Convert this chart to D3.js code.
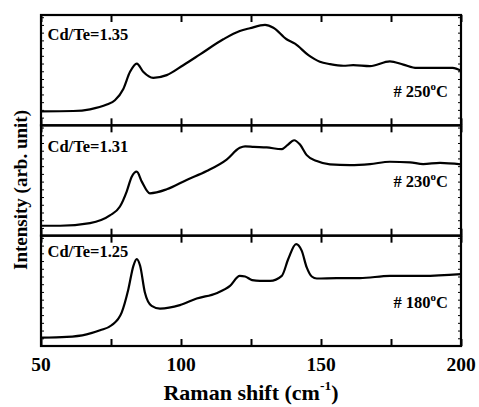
<!DOCTYPE html>
<html><head><meta charset="utf-8">
<script src="https://cdn.jsdelivr.net/npm/d3@7"></script>
<style>
body{margin:0;background:#fff;}
svg text{font-family:"Liberation Serif","Times New Roman",serif;font-weight:bold;fill:#000;}
</style></head>
<body><svg id="chart" width="479" height="407"></svg>
<script>
// ---- data ----
const xTicks = [50, 100, 150, 200];
const xMinorTicks = [75, 125, 175];
const ratioLabels = ["Cd/Te=1.35", "Cd/Te=1.31", "Cd/Te=1.25"];
const tempLabels = ["250", "230", "180"];

const shift135 = [50,61.5,67.5,73.5,76.4,79.4,81.8,84.2,86.5,90.1,94.9,100.8,106.8,115.1,121,124.6,130,133,137.7,140.7,145.5,149.6,153.2,158,161.5,167.5,174.6,179.4,184.2,191.3,197,200];
const int135   = [12.7,13,14.5,18.8,22.7,33,48.5,56,48.5,43,45.5,54.5,64.3,78,85.5,88,91,88.5,78,74,63.6,57.6,55.5,54,54.5,53.6,58,55,52,52,52,49.4];

const shift131 = [50,56.8,67.5,74.6,78.2,80.6,82.4,84.2,86,88.9,94.9,102,109.2,116.3,121,122.9,126,130.6,136,138,140.4,142.5,144.9,148.5,153.2,160.4,167.5,174.6,181.8,186.5,192.5,200];
const int131   = [9,9,11.4,18.3,26.4,40,53.4,58,49,38.4,42,50.5,58.6,69,79.6,81,80.5,80,78.4,82,86.5,82.6,73,67.6,64.6,64,64.9,67,66.4,64.9,66,64.6];

const shift125 = [50,59.2,66.3,71.1,75.2,78.8,81.2,83,84.2,85.4,87.1,89.5,92.5,99.6,105.6,112.7,117.5,121,122.9,125.4,128.2,131.8,136,138.3,141.1,143.1,144.9,146.7,148.5,155.6,163.9,174.6,186.5,200];
const int125   = [7.5,8.2,10.6,14.3,18.8,30.3,51.5,72.7,78.8,72.7,48.5,36.4,33.9,37,43,47.9,54.5,63.6,63,59.7,59,59,63.6,78.8,92.4,86.4,71.2,63,61.2,61.5,61.5,63.6,63.6,65.2];

const seriesShift = [shift135, shift131, shift125];
const seriesInt = [int135, int131, int125];

// ---- layout ----
const W = 479, H = 407;
const m = {left: 41, right: 18, top: 15, bottom: 61};
const pw = W - m.left - m.right;
const ph = (H - m.top - m.bottom) / 3;
const svg = d3.select("#chart");

const x = d3.scaleLinear().domain([50, 200]).range([m.left, m.left + pw]);
const yTickVals = d3.range(7, 100, 7);

const labelOff = [25, 26.7, 21.7];
const tempOff = [81.7, 61.7, 72.7];

for (let i = 0; i < 3; i++) {
  const top = m.top + i * ph;
  const y = d3.scaleLinear().domain([0, 100]).range([top + ph, top]);
  const g = svg.append("g");

  g.append("g").attr("transform", `translate(${m.left},0)`)
    .call(d3.axisRight(y).tickValues(yTickVals).tickSize(3).tickFormat(""))
    .call(a => a.select(".domain").remove())
    .call(a => a.selectAll("line").attr("stroke-width", 1));
  g.append("g").attr("transform", `translate(${m.left + pw},0)`)
    .call(d3.axisLeft(y).tickValues(yTickVals).tickSize(3).tickFormat(""))
    .call(a => a.select(".domain").remove())
    .call(a => a.selectAll("line").attr("stroke-width", 1));

  const allX = xTicks.concat(xMinorTicks);
  g.append("g").attr("transform", `translate(0,${top})`)
    .call(d3.axisBottom(x).tickValues(allX).tickSize(7).tickFormat(""))
    .call(a => a.select(".domain").remove())
    .call(a => a.selectAll("line").attr("stroke-width", 2));
  g.append("g").attr("transform", `translate(0,${top + ph})`)
    .call(d3.axisTop(x).tickValues(allX).tickSize(7).tickFormat(""))
    .call(a => a.select(".domain").remove())
    .call(a => a.selectAll("line").attr("stroke-width", 2));

  const line = d3.line()
    .x((d, k) => x(seriesShift[i][k]))
    .y(d => y(d))
    .curve(d3.curveMonotoneX);
  g.append("path").datum(seriesInt[i])
    .attr("d", line).attr("fill", "none").attr("stroke", "#000")
    .attr("stroke-width", 2.2).attr("stroke-linejoin", "round");

  g.append("rect").attr("x", m.left).attr("y", top).attr("width", pw).attr("height", ph)
    .attr("fill", "none").attr("stroke", "#000").attr("stroke-width", 2.2);

  g.append("text").attr("x", m.left + 6.5).attr("y", top + labelOff[i])
    .attr("font-size", 16.5).text(ratioLabels[i]);
  const t = g.append("text").attr("x", m.left + pw - 13).attr("y", top + tempOff[i])
    .attr("text-anchor", "end").attr("font-size", 16.5);
  t.append("tspan").text("# " + tempLabels[i]);
  t.append("tspan").attr("font-size", 11).attr("dy", -7).text("o");
  t.append("tspan").attr("dy", 7).text("C");
}

const bottom = m.top + 3 * ph;
svg.append("g").selectAll("text").data(xTicks).join("text")
  .attr("x", d => x(d)).attr("y", bottom + 24.5)
  .attr("text-anchor", "middle").attr("font-size", 19.5).text(d => d);

const xt = svg.append("text").attr("x", m.left + pw / 2).attr("y", 400)
  .attr("text-anchor", "middle").attr("font-size", 22);
xt.append("tspan").text("Raman shift (cm");
xt.append("tspan").attr("font-size", 13.5).attr("dy", -10).text("-1");
xt.append("tspan").attr("dy", 10).text(")");

svg.append("text").attr("transform", `translate(27,${190}) rotate(-90)`)
  .attr("text-anchor", "middle").attr("font-size", 19).text("Intensity (arb. unit)");
</script></body></html>
